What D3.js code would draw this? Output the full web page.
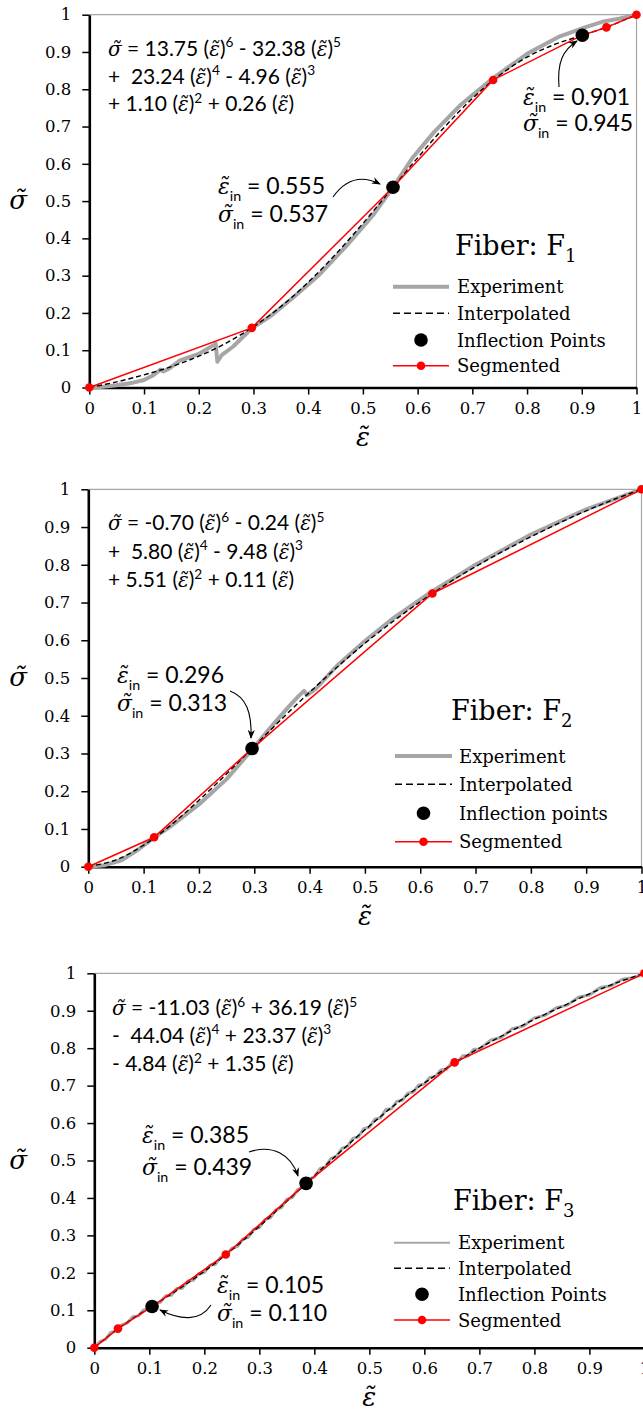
<!DOCTYPE html>
<html><head><meta charset="utf-8">
<script src="https://cdn.jsdelivr.net/npm/d3@7"></script>
<style>
body{margin:0;background:#fff;}
svg{display:block;}
</style></head><body>
<script>
// ================= DATA =================
const tickValues = [0,0.1,0.2,0.3,0.4,0.5,0.6,0.7,0.8,0.9,1];
const tickLabels = ["0","0.1","0.2","0.3","0.4","0.5","0.6","0.7","0.8","0.9","1"];

// Interpolated (polynomial) curves, sampled strain values
const interpEps = [0,0.05,0.1,0.15,0.2,0.25,0.3,0.35,0.4,0.45,0.5,0.55,0.6,0.65,0.7,0.75,0.8,0.85,0.9,0.95,1];
const f1InterpSig = [0,0.015,0.034,0.056,0.084,0.119,0.163,0.217,0.282,0.357,0.440,0.528,0.616,0.700,0.775,0.838,0.886,0.920,0.944,0.969,1.0];
const f2InterpSig = [0,0.018,0.057,0.111,0.176,0.246,0.319,0.392,0.462,0.529,0.592,0.649,0.702,0.751,0.795,0.836,0.874,0.910,0.943,0.973,1.0];
const f3InterpSig = [0,0.058,0.106,0.153,0.204,0.261,0.324,0.391,0.459,0.527,0.592,0.653,0.707,0.756,0.800,0.840,0.877,0.911,0.945,0.975,1.0];

// Experiment curves
const f1ExpEps = [0,0.02,0.05,0.08,0.1,0.117,0.13,0.135,0.145,0.166,0.2,0.231,0.234,0.242,0.263,0.297,0.33,0.37,0.42,0.47,0.52,0.555,0.59,0.63,0.68,0.738,0.8,0.86,0.91,0.94,0.97,1];
const f1ExpSig = [0,0.001,0.006,0.013,0.02,0.033,0.048,0.043,0.05,0.073,0.09,0.117,0.069,0.087,0.11,0.159,0.19,0.238,0.302,0.38,0.465,0.537,0.615,0.685,0.76,0.83,0.895,0.942,0.968,0.982,0.99,1];

const f2ExpEps = [0,0.03,0.06,0.09,0.12,0.15,0.2,0.25,0.296,0.33,0.36,0.38,0.39,0.395,0.41,0.45,0.5,0.55,0.62,0.7,0.8,0.9,1];
const f2ExpSig = [0,0.004,0.017,0.045,0.078,0.108,0.165,0.232,0.31,0.37,0.42,0.452,0.466,0.455,0.47,0.533,0.598,0.657,0.728,0.8,0.88,0.947,1];

const f3ExpEps = [0,0.01,0.02,0.03,0.04,0.05,0.06,0.07,0.08,0.09,0.10,0.11,0.12,0.13,0.14,0.15,0.16,0.17,0.18,0.19,0.20,0.21,0.22,0.23,0.24,0.25,0.26,0.27,0.28,0.29,0.30,0.31,0.32,0.33,0.34,0.35,0.36,0.37,0.38,0.39,0.40,0.41,0.42,0.43,0.44,0.45,0.46,0.47,0.48,0.49,0.50,0.51,0.52,0.53,0.54,0.55,0.56,0.57,0.58,0.59,0.60,0.61,0.62,0.63,0.64,0.65,0.66,0.67,0.68,0.69,0.70,0.72,0.74,0.76,0.78,0.80,0.82,0.84,0.86,0.88,0.90,0.92,0.94,0.96,0.98,1];
const f3ExpSig = [0,0.016,0.022,0.041,0.045,0.061,0.066,0.083,0.085,0.101,0.104,0.120,0.121,0.139,0.140,0.158,0.159,0.178,0.180,0.198,0.201,0.220,0.223,0.242,0.246,0.266,0.270,0.290,0.295,0.316,0.321,0.342,0.347,0.368,0.374,0.396,0.401,0.423,0.429,0.450,0.456,0.478,0.483,0.505,0.511,0.532,0.537,0.559,0.563,0.585,0.589,0.610,0.614,0.636,0.638,0.658,0.661,0.680,0.683,0.702,0.704,0.722,0.724,0.742,0.744,0.761,0.763,0.780,0.780,0.797,0.797,0.821,0.829,0.852,0.859,0.881,0.888,0.908,0.915,0.936,0.942,0.962,0.967,0.984,0.988,1.0];

// Segmented (piecewise linear) curves
const f1SegEps = [0,0.297,0.555,0.738,0.901,0.945,1];
const f1SegSig = [0,0.160,0.537,0.825,0.945,0.966,1];
const f2SegEps = [0,0.119,0.296,0.622,1];
const f2SegSig = [0,0.078,0.313,0.724,1];
const f3SegEps = [0,0.043,0.105,0.239,0.385,0.655,1];
const f3SegSig = [0,0.051,0.110,0.249,0.439,0.762,1];

// Inflection points
const f1InflEps = [0.555,0.901];
const f1InflSig = [0.537,0.945];
const f2InflEps = [0.296];
const f2InflSig = [0.313];
const f3InflEps = [0.105,0.385];
const f3InflSig = [0.110,0.439];

const legendLabels1 = ["Experiment","Interpolated","Inflection Points","Segmented"];
const legendLabels2 = ["Experiment","Interpolated","Inflection points","Segmented"];

// ================= DRAWING =================
const W = 643, H = 1417;
const svg = d3.select("body").append("svg").attr("width",W).attr("height",H);
const defs = svg.append("defs");
defs.append("marker").attr("id","ah").attr("viewBox","0 0 10 10").attr("refX",9).attr("refY",5)
  .attr("markerWidth",9).attr("markerHeight",9).attr("markerUnits","userSpaceOnUse").attr("orient","auto")
  .append("path").attr("d","M0,1 L10,5 L0,9 L3,5 z").attr("fill","#000");

const SERIF = "'DejaVu Serif', serif";
const SANS = "Lato, 'Open Sans', sans-serif";
const GREY = "#a6a6a6", RED = "#ff0000";

function zip(a,b){ return a.map((v,i)=>[v,b[i]]); }

// rich text: {s}=sigma-tilde, {e}=eps-tilde, ^d superscript, _in subscript
function richText(g, x, y, str, size, gscale){
  const t = g.append("text").attr("x",x).attr("y",y)
    .attr("font-family",SANS).attr("font-size",size).attr("fill","#000")
    .style("white-space","pre");
  const toks = str.match(/\{s\}|\{e\}|\^\d|_in|[^{^_]+/g);
  let cur = 0;
  toks.forEach(tok=>{
    let ts = t.append("tspan");
    if(tok==="{s}" || tok==="{e}"){
      ts.text(tok==="{s}" ? "\u03C3\u0303" : "\u03B5\u0303")
        .attr("font-family",SERIF).attr("font-style","italic").attr("font-size",size*gscale)
        .attr("dy",-cur); cur=0;
    } else if(tok[0]==="^"){
      const r = size*0.4;
      ts.text(tok.slice(1)).attr("font-size",size*0.65).attr("dy",-r-cur); cur=-r;
    } else if(tok==="_in"){
      const d = size*0.3;
      ts.text("in").attr("font-size",size*0.62).attr("dy",d-cur); cur=d;
    } else {
      ts.text(tok).attr("dy",-cur); cur=0;
    }
  });
  return t;
}

function drawPanel(p){
  const x = d3.scaleLinear().domain([0,1]).range([p.x0,p.x1]);
  const y = d3.scaleLinear().domain([0,1]).range([p.yb,p.yt]);
  const g = svg.append("g");

  // frame top & right
  g.append("path").attr("d",`M${p.x0},${p.yt}H${p.x1}V${p.yb}`)
    .attr("fill","none").attr("stroke","#a6a6a6").attr("stroke-width",1.2);

  // axes
  const ax = g.append("g").attr("transform",`translate(0,${p.yb})`)
    .call(d3.axisBottom(x).tickValues(tickValues).tickFormat((d,i)=>tickLabels[i]).tickSize(7).tickSizeOuter(0).tickPadding(8));
  const ay = g.append("g").attr("transform",`translate(${p.x0},0)`)
    .call(d3.axisLeft(y).tickValues(tickValues).tickFormat((d,i)=>tickLabels[i]).tickSize(7).tickSizeOuter(0).tickPadding(11));
  [ax,ay].forEach(a=>{
    a.select(".domain").attr("stroke","#000").attr("stroke-width",2.6);
    a.selectAll(".tick line").attr("stroke","#000").attr("stroke-width",1.5);
    a.selectAll(".tick text").attr("font-family",SERIF).attr("font-size",16.5).attr("fill","#000");
  });

  // axis titles
  g.append("text").attr("x",(p.x0+p.x1)/2).attr("y",p.yb+58).attr("text-anchor","middle")
    .attr("font-family",SERIF).attr("font-style","italic").attr("font-size",26).text("\u03B5\u0303");
  g.append("text").attr("x",18).attr("y",(p.yt+p.yb)/2+8).attr("text-anchor","middle")
    .attr("font-family",SERIF).attr("font-style","italic").attr("font-size",26).text("\u03C3\u0303");

  // experiment
  g.append("path").datum(zip(p.expE,p.expS))
    .attr("d",d3.line().x(d=>x(d[0])).y(d=>y(d[1])))
    .attr("fill","none").attr("stroke",GREY).attr("stroke-width",p.expW).attr("stroke-linejoin","round");
  // interpolated
  g.append("path").datum(zip(interpEps,p.intS))
    .attr("d",d3.line().curve(d3.curveCatmullRom).x(d=>x(d[0])).y(d=>y(d[1])))
    .attr("fill","none").attr("stroke","#000").attr("stroke-width",1.4).attr("stroke-dasharray","5,3");
  // segmented
  const seg = zip(p.segE,p.segS);
  g.append("path").datum(seg).attr("d",d3.line().x(d=>x(d[0])).y(d=>y(d[1])))
    .attr("fill","none").attr("stroke",RED).attr("stroke-width",1.5);
  g.selectAll(null).data(seg).enter().append("circle")
    .attr("cx",d=>x(d[0])).attr("cy",d=>y(d[1])).attr("r",4.3).attr("fill",RED);
  // inflection
  g.selectAll(null).data(zip(p.infE,p.infS)).enter().append("circle")
    .attr("cx",d=>x(d[0])).attr("cy",d=>y(d[1])).attr("r",6.8).attr("fill","#000");

  // equation
  p.eq.forEach((s,i)=>richText(g,p.eqX,p.eqY[i],s,21,0.95));
  // annotations
  p.ann.forEach(a=>richText(g,a[0],a[1],a[2],23,0.95));
  p.arrows.forEach(d=>g.append("path").attr("d",d).attr("fill","none").attr("stroke","#000")
    .attr("stroke-width",1.1).attr("marker-end","url(#ah)"));

  // fiber label
  const ft = g.append("text").attr("x",p.fib[0]).attr("y",p.fib[1]).attr("font-family",SERIF)
    .attr("font-size",27).attr("fill","#000");
  ft.append("tspan").text("Fiber: F");
  ft.append("tspan").text(p.fib[2]).attr("font-size",18).attr("dy",7);

  // legend
  const L = p.leg;
  const rows = L.rows;
  g.append("line").attr("x1",L.l0).attr("x2",L.l1).attr("y1",rows[0]).attr("y2",rows[0])
    .attr("stroke",GREY).attr("stroke-width",p.legW);
  g.append("line").attr("x1",L.l0).attr("x2",L.l1).attr("y1",rows[1]).attr("y2",rows[1])
    .attr("stroke","#000").attr("stroke-width",1.4).attr("stroke-dasharray","7,4");
  g.append("circle").attr("cx",(L.l0+L.l1)/2).attr("cy",rows[2]).attr("r",6.8).attr("fill","#000");
  g.append("line").attr("x1",L.l0).attr("x2",L.l1).attr("y1",rows[3]).attr("y2",rows[3])
    .attr("stroke",RED).attr("stroke-width",1.5);
  g.append("circle").attr("cx",(L.l0+L.l1)/2).attr("cy",rows[3]).attr("r",4.3).attr("fill",RED);
  p.legLabels.forEach((s,i)=>g.append("text").attr("x",L.tx).attr("y",rows[i]+6.5)
    .attr("font-family",SERIF).attr("font-size",18).attr("fill","#000").text(s));
}

drawPanel({
  x0:89.3,x1:636.5,yb:387.5,yt:14.7,
  expE:f1ExpEps,expS:f1ExpSig,expW:4,legW:4,intS:f1InterpSig,segE:f1SegEps,segS:f1SegSig,infE:f1InflEps,infS:f1InflSig,
  eqX:108,eqY:[55.5,83.5,111],
  eq:["{s} = 13.75 ({e})^6 - 32.38 ({e})^5","+  23.24 ({e})^4 - 4.96 ({e})^3","+ 1.10 ({e})^2 + 0.26 ({e})"],
  ann:[[218,194,"{e}_in = 0.555"],[218,222,"{s}_in = 0.537"],[523,105,"{e}_in = 0.901"],[523,131,"{s}_in = 0.945"]],
  arrows:["M333,197 Q352,170 380,184","M559,87 C557,62 563,50 577,41"],
  fib:[455,255,"1"],
  leg:{l0:393,l1:449,tx:457,rows:[286.7,313.3,340,365.7]},legLabels:legendLabels1
});
drawPanel({
  x0:88.3,x1:641.5,yb:866.7,yt:489.3,
  expE:f2ExpEps,expS:f2ExpSig,expW:4,legW:4,intS:f2InterpSig,segE:f2SegEps,segS:f2SegSig,infE:f2InflEps,infS:f2InflSig,
  eqX:108,eqY:[530,558.5,587],
  eq:["{s} = -0.70 ({e})^6 - 0.24 ({e})^5","+  5.80 ({e})^4 - 9.48 ({e})^3","+ 5.51 ({e})^2 + 0.11 ({e})"],
  ann:[[117,683,"{e}_in = 0.296"],[117,711,"{s}_in = 0.313"]],
  arrows:["M230,691 C246,697 252,712 251,738"],
  fib:[451,720,"2"],
  leg:{l0:395,l1:452,tx:459,rows:[756,784.3,813.3,841.7]},legLabels:legendLabels2
});
drawPanel({
  x0:94.3,x1:644.4,yb:1347.7,yt:973.3,
  expE:f3ExpEps,expS:f3ExpSig,expW:3,legW:2,intS:f3InterpSig,segE:f3SegEps,segS:f3SegSig,infE:f3InflEps,infS:f3InflSig,
  eqX:112,eqY:[1015,1042.7,1071],
  eq:["{s} = -11.03 ({e})^6 + 36.19 ({e})^5","-  44.04 ({e})^4 + 23.37 ({e})^3","- 4.84 ({e})^2 + 1.35 ({e})"],
  ann:[[142,1143,"{e}_in = 0.385"],[142,1175,"{s}_in = 0.439"],[217,1293,"{e}_in = 0.105"],[217,1321,"{s}_in = 0.110"]],
  arrows:["M249,1152 C272,1144 291,1154 298,1176","M211,1305 C200,1322 180,1320 160,1310"],
  fib:[453,1210,"3"],
  leg:{l0:394,l1:450,tx:458,rows:[1242.7,1268.3,1294.3,1320]},legLabels:legendLabels1
});
</script>
</body></html>
